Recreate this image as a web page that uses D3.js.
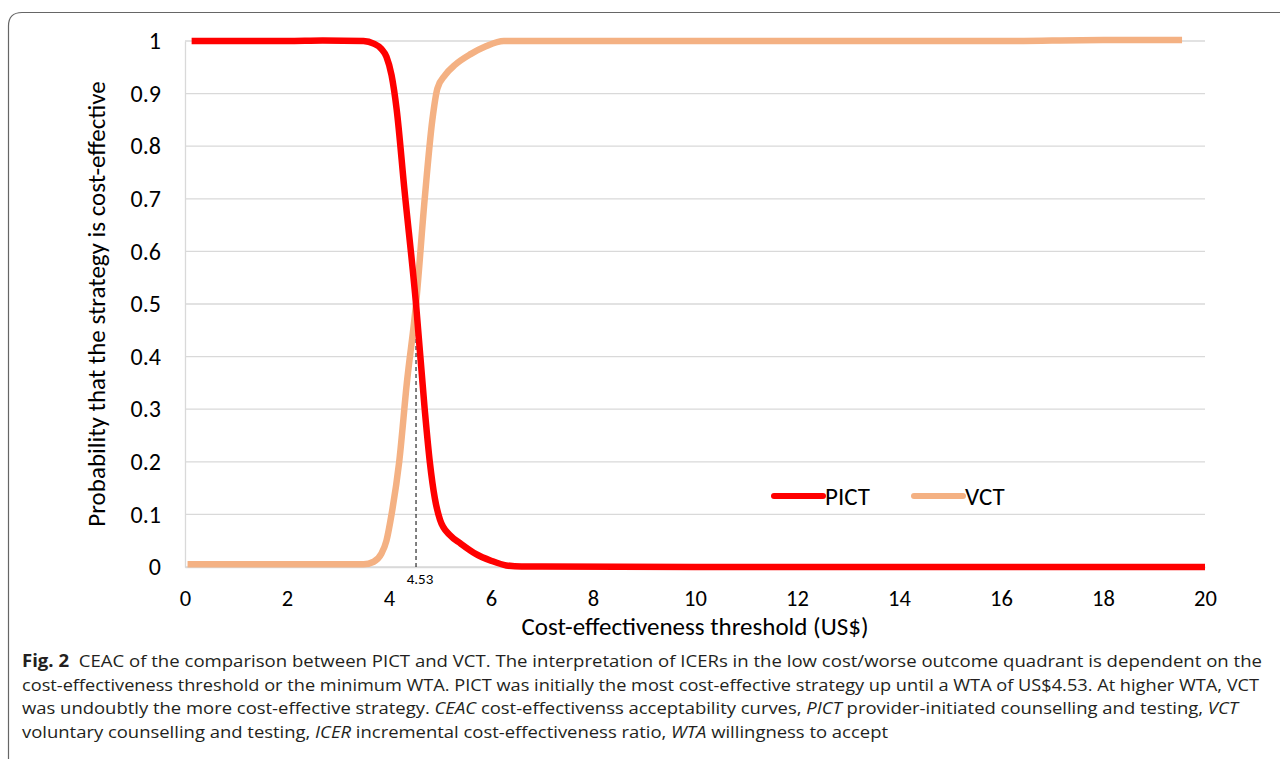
<!DOCTYPE html>
<html>
<head>
<meta charset="utf-8">
<script src="https://cdn.jsdelivr.net/npm/d3@7"></script>
<style>
  body { margin: 0; background: #fff; }
  svg { display: block; }
</style>
</head>
<body>
<script>
const W = 1280, H = 759

// values
const xTicks = [0, 2, 4, 6, 8, 10, 12, 14, 16, 18, 20]
const yTicks = [0, 0.1, 0.2, 0.3, 0.4, 0.5, 0.6, 0.7, 0.8, 0.9, 1]

const pictX = [0.13, 1, 2, 2.7, 3.5, 3.7, 3.85, 3.95, 4.05, 4.15, 4.3, 4.53, 4.7, 4.8, 4.9, 5.0, 5.2, 5.4, 5.7, 6.0, 6.3, 6.6, 7, 10, 15, 20]
const pictY = [1, 1, 1, 1.001, 1, 0.995, 0.985, 0.97, 0.935, 0.87, 0.72, 0.5, 0.3, 0.2, 0.13, 0.09, 0.06, 0.045, 0.025, 0.012, 0.003, 0.001, 0.001, 0, 0, 0]

const vctX = [0.05, 1, 2, 3, 3.5, 3.7, 3.85, 3.95, 4.05, 4.2, 4.35, 4.53, 4.7, 4.85, 4.95, 5.1, 5.3, 5.6, 5.9, 6.25, 8, 12, 16, 18, 19.55]
const vctY = [0.005, 0.005, 0.005, 0.005, 0.005, 0.01, 0.025, 0.05, 0.1, 0.2, 0.35, 0.5, 0.7, 0.85, 0.91, 0.935, 0.955, 0.975, 0.99, 1, 1, 1, 1, 1.002, 1.002]

const crossX = 4.53
const crossLabel = '4.53'

const caption = [
  [{ t: 'Fig. 2', b: true }, { t: '  CEAC of the comparison between PICT and VCT. The interpretation of ICERs in the low cost/worse outcome quadrant is dependent on the' }],
  [{ t: 'cost-effectiveness threshold or the minimum WTA. PICT was initially the most cost-effective strategy up until a WTA of US$4.53. At higher WTA, VCT' }],
  [{ t: 'was undoubtly the more cost-effective strategy. ' }, { t: 'CEAC', i: true }, { t: ' cost-effectivenss acceptability curves, ' }, { t: 'PICT', i: true }, { t: ' provider-initiated counselling and testing, ' }, { t: 'VCT', i: true }],
  [{ t: 'voluntary counselling and testing, ' }, { t: 'ICER', i: true }, { t: ' incremental cost-effectiveness ratio, ' }, { t: 'WTA', i: true }, { t: ' willingness to accept' }]
]
// right end of each caption line in the reference
const captionEnds = [1262, 1259, 1238, 888]

const series = [
  { name: 'PICT', color: '#ff0000', pts: pictX.map((x, i) => [x, pictY[i]]) },
  { name: 'VCT', color: '#f4b183', pts: vctX.map((x, i) => [x, vctY[i]]) }
]

const font = 'Carlito, Lato, "Open Sans", sans-serif'

const svg = d3.select('body').append('svg')
  .attr('width', W).attr('height', H)

// frame
svg.append('path')
  .attr('d', 'M8.5,759 L8.5,26 Q8.5,12.5 22,12.5 L1280,12.5')
  .attr('fill', 'none').attr('stroke', '#666').attr('stroke-width', 1.2)

const x = d3.scaleLinear().domain([0, 20]).range([185, 1205])
const y = d3.scaleLinear().domain([0, 1]).range([567, 41])

// grid
svg.append('g')
  .selectAll('line')
  .data(yTicks)
  .join('line')
  .attr('x1', x(0)).attr('x2', x(20))
  .attr('y1', d => y(d)).attr('y2', d => y(d))
  .attr('stroke', '#d9d9d9').attr('stroke-width', 1.3)

const yAxis = svg.append('g')
  .attr('transform', `translate(${x(0)},0)`)
  .call(d3.axisLeft(y).tickValues(yTicks).tickSize(0).tickPadding(24).tickFormat(d3.format('')))
yAxis.select('.domain').attr('stroke', '#d9d9d9').attr('stroke-width', 1.3)
yAxis.selectAll('text').attr('font-family', font).attr('font-size', 24).attr('fill', '#000')

const xAxis = svg.append('g')
  .attr('transform', `translate(0,${y(0)})`)
  .call(d3.axisBottom(x).tickValues(xTicks).tickSize(0).tickPadding(23))
xAxis.select('.domain').attr('stroke', '#d9d9d9').attr('stroke-width', 1.3)
xAxis.selectAll('text').attr('font-family', font).attr('font-size', 22.5).attr('fill', '#000')

// dashed marker at the crossing point
svg.append('line')
  .attr('x1', x(crossX)).attr('x2', x(crossX))
  .attr('y1', y(0.5)).attr('y2', y(0))
  .attr('stroke', '#000').attr('stroke-width', 1).attr('stroke-dasharray', '4,3')

svg.append('text')
  .attr('x', x(crossX) + 4).attr('y', y(0) + 17)
  .attr('text-anchor', 'middle')
  .attr('font-family', font).attr('font-size', 15)
  .text(crossLabel)

const line = d3.line()
  .x(d => x(d[0])).y(d => y(d[1]))
  .curve(d3.curveMonotoneX)

svg.append('g')
  .selectAll('path')
  .data(series.slice().reverse())
  .join('path')
  .attr('d', d => line(d.pts))
  .attr('fill', 'none')
  .attr('stroke', d => d.color)
  .attr('stroke-width', 6.5)
  .attr('stroke-linejoin', 'round')

// legend
const lg = svg.append('g')
  .selectAll('g')
  .data(series)
  .join('g')
  .attr('transform', (d, i) => `translate(${772 + i * 140},496)`)
lg.append('line')
  .attr('x1', 2).attr('x2', 51)
  .attr('stroke', d => d.color).attr('stroke-width', 6).attr('stroke-linecap', 'round')
lg.append('text')
  .attr('x', 53).attr('y', 9)
  .attr('font-family', font).attr('font-size', 25)
  .text(d => d.name)

// axis titles
svg.append('text')
  .attr('transform', `translate(105,${y(0.5)}) rotate(-90)`)
  .attr('text-anchor', 'middle')
  .attr('font-family', font).attr('font-size', 25)
  .text('Probability that the strategy is cost-effective')

svg.append('text')
  .attr('x', x(10)).attr('y', 635)
  .attr('text-anchor', 'middle')
  .attr('font-family', font).attr('font-size', 25)
  .text('Cost-effectiveness threshold (US$)')

// caption
const cap = svg.append('g')
caption.forEach((parts, i) => {
  const t = cap.append('text')
    .attr('x', 22).attr('y', 667 + i * 23.5)
    .attr('font-family', '"Open Sans", sans-serif')
    .attr('font-size', 17)
    .attr('fill', '#231f20')
    .attr('xml:space', 'preserve')
    .attr('textLength', captionEnds[i] - 22)
    .attr('lengthAdjust', 'spacingAndGlyphs')
  parts.forEach(p => {
    t.append('tspan')
      .attr('font-weight', p.b ? 700 : 400)
      .attr('font-style', p.i ? 'italic' : 'normal')
      .text(p.t)
  })
})
</script>
</body>
</html>
